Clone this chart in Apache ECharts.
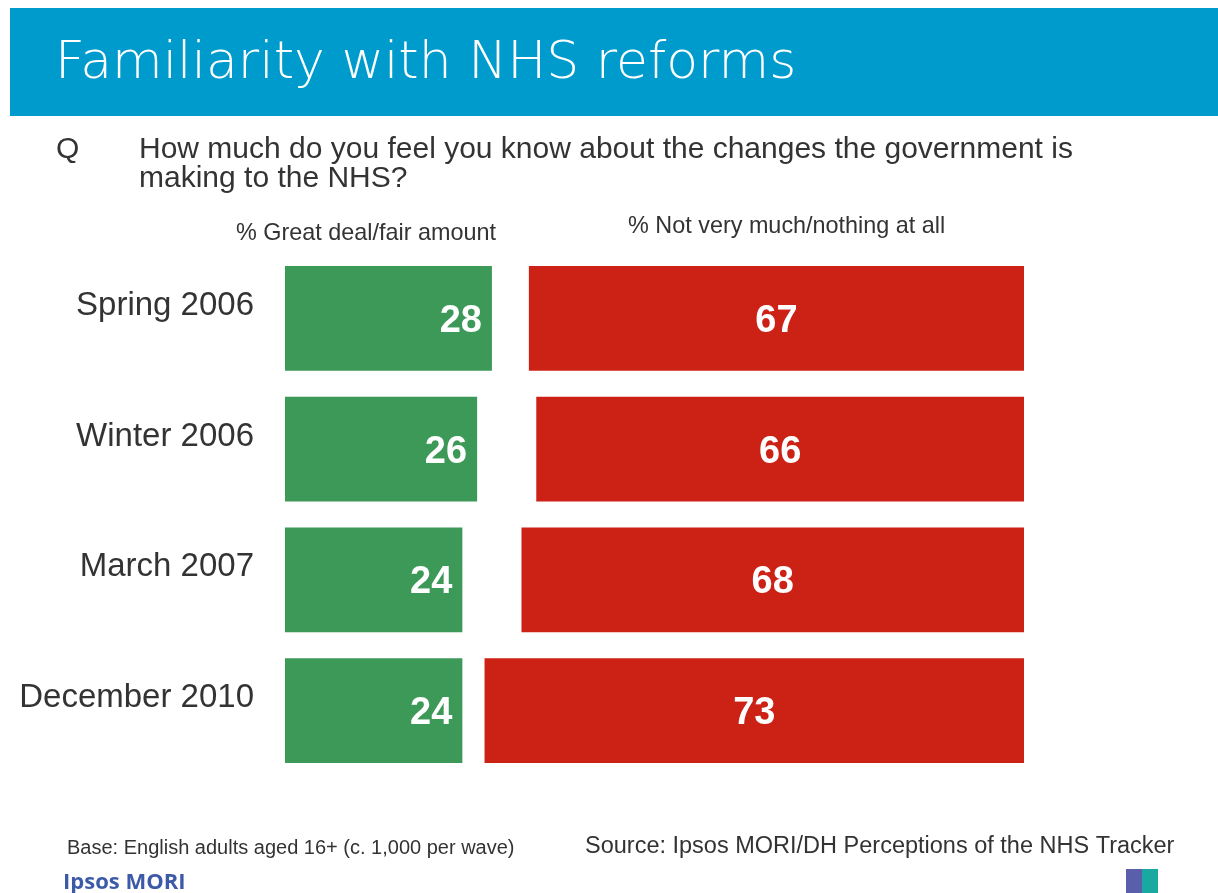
<!DOCTYPE html>
<html>
<head>
<meta charset="utf-8">
<title>Familiarity with NHS reforms</title>
<script src="https://cdn.jsdelivr.net/npm/echarts@6/dist/echarts.min.js"></script>
<style>
  html, body { margin: 0; padding: 0; background: #ffffff; }
  #chart { width: 1218px; height: 893px; }
</style>
</head>
<body>
<div id="chart"></div>
<script>
// Survey waves, top to bottom
const waves = ['Spring 2006', 'Winter 2006', 'March 2007', 'December 2010'];
// % Great deal/fair amount
const knowMuch = [28, 26, 24, 24];
// % Not very much/nothing at all
const knowLittle = [67, 66, 68, 73];

const seriesNames = ['% Great deal/fair amount', '% Not very much/nothing at all'];

const GREEN = '#3d9958';
const RED = '#cc2216';
const TEXT = '#333333';
const FONT = '"Liberation Sans", Arial, sans-serif';

const chart = echarts.init(document.getElementById('chart'), null, { renderer: 'canvas' });

chart.setOption({
  backgroundColor: '#ffffff',
  animation: false,
  graphic: [
    // header banner
    { type: 'rect', z: 0, shape: { x: 10, y: 8, width: 1208, height: 108 }, style: { fill: '#009bcd' } },
    // small corner logo
    { type: 'rect', z: 0, shape: { x: 1126, y: 869, width: 16, height: 24 }, style: { fill: '#5a5fab' } },
    { type: 'rect', z: 0, shape: { x: 1142, y: 869, width: 16, height: 24 }, style: { fill: '#1aa9a0' } }
  ],
  title: [
    {
      text: 'Familiarity with NHS reforms',
      left: 50, top: 33,
      textStyle: { color: '#ffffff', fontSize: 52, fontWeight: 200, fontFamily: '"DejaVu Sans", Verdana, sans-serif' }
    },
    {
      text: 'Q',
      left: 51, top: 130,
      textStyle: { color: TEXT, fontSize: 30, fontWeight: 'normal', fontFamily: FONT }
    },
    {
      text: 'How much do you feel you know about the changes the government is\nmaking to the NHS?',
      left: 134, top: 130,
      textStyle: { color: TEXT, fontSize: 30, lineHeight: 29, fontWeight: 'normal', fontFamily: FONT }
    },
    {
      text: seriesNames[0],
      left: 231, top: 217,
      textStyle: { color: TEXT, fontSize: 23.4, fontWeight: 'normal', fontFamily: FONT }
    },
    {
      text: seriesNames[1],
      left: 623, top: 210,
      textStyle: { color: TEXT, fontSize: 23.4, fontWeight: 'normal', fontFamily: FONT }
    },
    {
      text: 'Base: English adults aged 16+ (c. 1,000 per wave)',
      left: 62, top: 833,
      textStyle: { color: TEXT, fontSize: 20, fontWeight: 'normal', fontFamily: FONT }
    },
    {
      text: 'Source: Ipsos MORI/DH Perceptions of the NHS Tracker',
      left: 580, top: 830,
      textStyle: { color: TEXT, fontSize: 23.5, fontWeight: 'normal', fontFamily: FONT }
    },
    {
      text: 'Ipsos MORI',
      left: 58, top: 867,
      textStyle: { color: '#3d5aa8', fontSize: 22, fontWeight: 'bold', fontFamily: '"Open Sans", "Liberation Sans", sans-serif' }
    }
  ],
  grid: { left: 285, right: 194, top: 253, height: 523, containLabel: false },
  xAxis: [
    { type: 'value', min: 0, max: 100, show: false },
    { type: 'value', min: 0, max: 100, inverse: true, show: false }
  ],
  yAxis: {
    type: 'category',
    data: waves,
    inverse: true,
    axisLine: { show: false },
    axisTick: { show: false },
    splitLine: { show: false },
    axisLabel: {
      color: TEXT,
      fontSize: 33,
      fontFamily: FONT,
      margin: 31,
      verticalAlign: 'bottom',
      lineHeight: 25
    }
  },
  series: [
    {
      name: seriesNames[0],
      type: 'bar',
      xAxisIndex: 0,
      data: knowMuch,
      barCategoryGap: '20%',
      barGap: '-100%',
      itemStyle: { color: GREEN },
      label: {
        show: true,
        position: 'insideRight',
        distance: 10,
        color: '#ffffff',
        fontSize: 38,
        fontWeight: 'bold',
        fontFamily: FONT,
        offset: [0, 3]
      }
    },
    {
      name: seriesNames[1],
      type: 'bar',
      xAxisIndex: 1,
      data: knowLittle,
      barCategoryGap: '20%',
      barGap: '-100%',
      itemStyle: { color: RED },
      label: {
        show: true,
        position: 'inside',
        color: '#ffffff',
        fontSize: 38,
        fontWeight: 'bold',
        fontFamily: FONT,
        offset: [0, 3]
      }
    }
  ]
});
</script>
</body>
</html>
